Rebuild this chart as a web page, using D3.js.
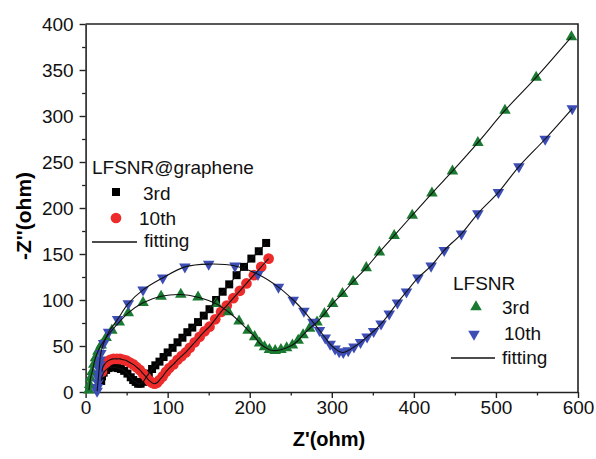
<!DOCTYPE html>
<html>
<head>
<meta charset="utf-8">
<script src="https://cdn.jsdelivr.net/npm/d3@7"></script>
<style>
  body { margin: 0; background: #fff; }
  svg { font-family: "Liberation Sans", Arial, sans-serif; }
</style>
</head>
<body>
<svg id="chart"></svg>
<script>
// [Z', -Z''] pairs
var graphene3rd = [[19,12],[20,17],[22,21],[25,24],[28,26],[31,27],[35,27],[39,26],[43,25],[47,23],
  [51,20],[55,16],[58,13],[61,11],[64,9],[67,9],[70,11],[73,15],[77,20],[81,25],[85,29],[90,33],
  [95,38],[100,43],[106,48],[112,54],[118,59],[124,65],[130,70],[137,76],[144,83],[151,90],[159,100],
  [167,109],[175,117],[184,127],[193,136],[202,145],[211,153],[220,162]];
var graphene10th = [[20,22],[21,27],[23,30],[26,33],[30,35],[34,36],[38,36],[42,36],[46,35],[50,34],
  [54,32],[58,30],[62,27],[66,24],[70,20],[74,16],[78,12],[81,10],[84,9],[87,10],[90,13],[94,17],
  [98,22],[102,26],[107,30],[112,35],[117,39],[122,43],[127,48],[133,54],[139,60],[145,66],[151,71],
  [158,79],[165,87],[172,94],[180,102],[188,110],[196,118],[205,127],[214,136],[223,145]];
var lfsnr3rd = [[4,2],[5,8],[6,15],[8,22],[10,30],[12,37],[15,44],[19,51],[25,59],[32,67],[41,76],
  [52,86],[70,97],[92,104],[116,106],[137,103],[159,96],[174,87],[187,77],[198,67],[206,60],[212,53],
  [218,49],[224,46],[231,45],[238,46],[245,48],[252,51],[259,56],[265,62],[273,69],[282,76],[291,85],
  [301,96],[313,107],[326,120],[342,135],[358,152],[376,170],[398,192],[422,216],[447,240],[478,271],
  [511,306],[549,342],[592,386]];
var lfsnr10th = [[14,1],[14.5,5],[15,10],[15.5,15],[16,20],[16.5,25],[17,30],[17.5,35],[18.5,42],
  [22,53],[28,65],[39,79],[52,96],[70,111],[94,124],[121,136],[150,139],[182,137],[210,128],[235,114],
  [253,100],[266,88],[277,76],[285,67],[292,59],[298,52],[304,47],[309,44],[314,43],[320,45],[327,49],
  [335,54],[343,60],[351,66],[360,74],[370,85],[380,97],[391,109],[405,124],[421,137],[437,154],
  [458,172],[478,194],[503,217],[528,245],[560,275],[593,308]];

var xTicks = [0, 100, 200, 300, 400, 500, 600];
var yTicks = [0, 50, 100, 150, 200, 250, 300, 350, 400];

var W = 596, H = 459;
var padL = 85.6, padR = 578, padT = 24, padB = 392;

var svg = d3.select("#chart").attr("width", W).attr("height", H);

var x = d3.scaleLinear().domain([0, 600]).range([padL, padR]);
var y = d3.scaleLinear().domain([0, 400]).range([padB, padT]);

// minor ticks
svg.append("g")
  .attr("transform", "translate(0," + padB + ")")
  .call(d3.axisBottom(x).tickValues(d3.range(50, 600, 100)).tickSize(3.5).tickFormat(""))
  .call(g => g.select(".domain").remove())
  .selectAll("line").attr("stroke", "#222").attr("stroke-width", 1.3);
svg.append("g")
  .attr("transform", "translate(" + padL + ",0)")
  .call(d3.axisLeft(y).tickValues(d3.range(25, 400, 50)).tickSize(3.5).tickFormat(""))
  .call(g => g.select(".domain").remove())
  .selectAll("line").attr("stroke", "#222").attr("stroke-width", 1.3);

// major axes
var xAxis = svg.append("g")
  .attr("transform", "translate(0," + padB + ")")
  .call(d3.axisBottom(x).tickValues(xTicks).tickSize(6).tickPadding(3).tickSizeOuter(0));
var yAxis = svg.append("g")
  .attr("transform", "translate(" + padL + ",0)")
  .call(d3.axisLeft(y).tickValues(yTicks).tickSize(6).tickPadding(6).tickSizeOuter(0));

[xAxis, yAxis].forEach(function (a) {
  a.select(".domain").attr("stroke", "#222").attr("stroke-width", 1.6);
  a.selectAll(".tick line").attr("stroke", "#222").attr("stroke-width", 1.4);
  a.selectAll(".tick text")
    .attr("fill", "#111")
    .style("font-size", "19px")
    .style("font-family", "Liberation Sans, Arial, sans-serif");
});

// frame top/right
svg.append("path")
  .attr("d", "M" + padL + "," + padT + "H" + padR + "V" + padB)
  .attr("fill", "none").attr("stroke", "#222").attr("stroke-width", 1.6);

// axis titles
svg.append("text")
  .attr("x", 329)
  .attr("y", 446)
  .attr("text-anchor", "middle")
  .attr("font-size", "20px").attr("font-weight", "bold")
  .text("Z'(ohm)");
svg.append("text")
  .attr("transform", "translate(31,216) rotate(-90)")
  .attr("text-anchor", "middle")
  .attr("font-size", "21px").attr("font-weight", "bold")
  .text("-Z''(ohm)");

var series = [
  { data: graphene3rd, color: "#000000", shape: d3.symbolSquare, size: 64, rot: 0 },
  { data: graphene10th, color: "#ee2b2b", shape: d3.symbolCircle, size: 90, rot: 0 },
  { data: lfsnr3rd, color: "#1b7a32", shape: d3.symbolTriangle, size: 58, rot: 0 },
  { data: lfsnr10th, color: "#3c4db5", shape: d3.symbolTriangle, size: 58, rot: 180 }
];

var plot = svg.append("g");
series.forEach(function (s) {
  plot.selectAll(null)
    .data(s.data)
    .enter()
    .append("path")
    .attr("d", d3.symbol().type(s.shape).size(s.size))
    .attr("transform", function (d) {
      return "translate(" + x(d[0]) + "," + y(d[1]) + ") rotate(" + s.rot + ")";
    })
    .attr("fill", s.color);
});

// fitting lines
var line = d3.line()
  .x(function (d) { return x(d[0]); })
  .y(function (d) { return y(d[1]); })
  .curve(d3.curveCatmullRom.alpha(0.5));
series.forEach(function (s) {
  plot.append("path")
    .attr("d", line(s.data))
    .attr("fill", "none")
    .attr("stroke", "#111")
    .attr("stroke-width", 1.1);
});

// legend 1
var leg1 = svg.append("g").attr("font-size", "19px").attr("fill", "#111");
leg1.append("text").attr("x", 92).attr("y", 174).text("LFSNR@graphene");
leg1.append("path").attr("d", d3.symbol().type(d3.symbolSquare).size(64))
  .attr("transform", "translate(116,192)").attr("fill", "#000");
leg1.append("text").attr("x", 143).attr("y", 200).text("3rd");
leg1.append("path").attr("d", d3.symbol().type(d3.symbolCircle).size(90))
  .attr("transform", "translate(116,218)").attr("fill", "#ee2b2b");
leg1.append("text").attr("x", 139).attr("y", 225).text("10th");
leg1.append("line").attr("x1", 92).attr("x2", 137).attr("y1", 242).attr("y2", 242)
  .attr("stroke", "#111").attr("stroke-width", 1.4);
leg1.append("text").attr("x", 144).attr("y", 247).text("fitting");

// legend 2
var leg2 = svg.append("g").attr("font-size", "19px").attr("fill", "#111");
leg2.append("text").attr("x", 453).attr("y", 290).text("LFSNR");
leg2.append("path").attr("d", d3.symbol().type(d3.symbolTriangle).size(58))
  .attr("transform", "translate(476,307)").attr("fill", "#1b7a32");
leg2.append("text").attr("x", 502).attr("y", 314).text("3rd");
leg2.append("path").attr("d", d3.symbol().type(d3.symbolTriangle).size(58))
  .attr("transform", "translate(474,334) rotate(180)").attr("fill", "#3c4db5");
leg2.append("text").attr("x", 504).attr("y", 340).text("10th");
leg2.append("line").attr("x1", 451).attr("x2", 495).attr("y1", 358).attr("y2", 358)
  .attr("stroke", "#111").attr("stroke-width", 1.4);
leg2.append("text").attr("x", 502).attr("y", 364).text("fitting");
</script>
</body>
</html>
